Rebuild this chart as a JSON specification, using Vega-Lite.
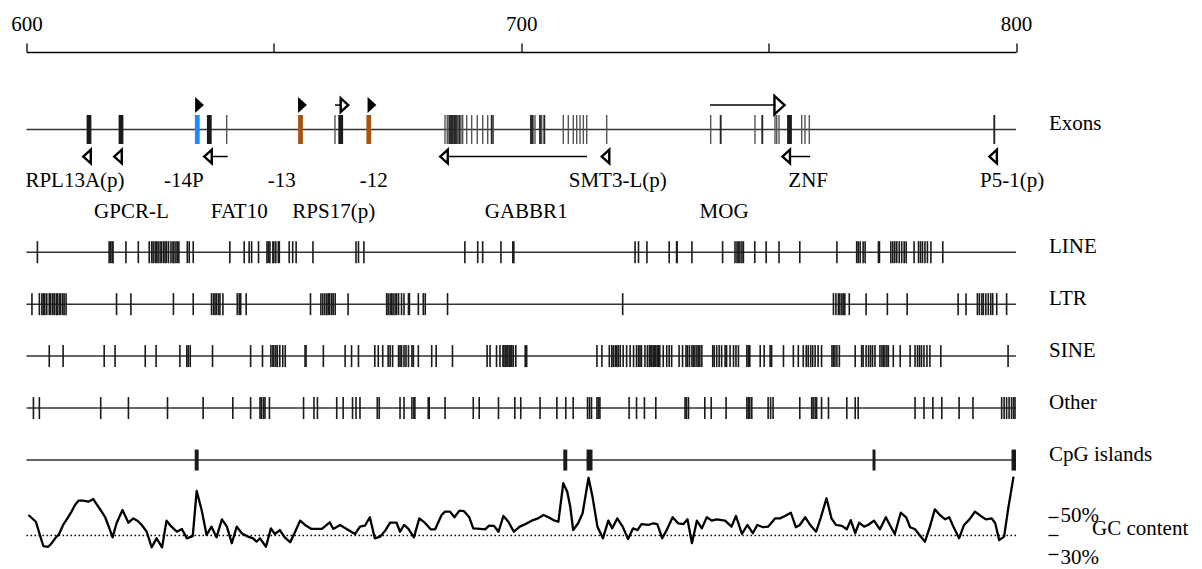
{
"$schema":"https://vega.github.io/schema/vega-lite/v6.json",
"width":989.5,"height":517,"autosize":{"type":"none"},
"padding":{"left":26.5,"top":52,"right":186,"bottom":0},
"background":"white",
"config":{"view":{"stroke":null},"font":"Liberation Serif"},
"datasets":{
"tracks":[{"track":"above","lane":1.17},{"track":"Exons","lane":1.64,"label":"Exons"},{"track":"below","lane":2.16},{"track":"names1","lane":2.625},{"track":"names2","lane":3.234},{"track":"LINE","lane":4,"label":"LINE"},{"track":"LTR","lane":5,"label":"LTR"},{"track":"SINE","lane":6,"label":"SINE"},{"track":"Other","lane":7,"label":"Other"},{"track":"CpG islands","lane":8,"label":"CpG islands"}],
"exons":[{"track":"Exons","pos":612.63,"group":"exon"},{"track":"Exons","pos":619.10,"group":"exon"},{"track":"Exons","pos":636.95,"group":"exon"},{"track":"Exons","pos":663.51,"group":"exon"},{"track":"Exons","pos":754.22,"group":"exon"},{"track":"Exons","pos":634.52,"group":"-14P"},{"track":"Exons","pos":655.38,"group":"-13"},{"track":"Exons","pos":669.19,"group":"-12"},
{"track":"Exons","pos":640.46,"group":"small"},{"track":"Exons","pos":662.35,"group":"small"},{"track":"Exons","pos":684.59,"group":"small"},{"track":"Exons","pos":685.05,"group":"small"},{"track":"Exons","pos":687.15,"group":"small"},{"track":"Exons","pos":687.82,"group":"small"},{"track":"Exons","pos":688.16,"group":"small"},{"track":"Exons","pos":688.97,"group":"small"},{"track":"Exons","pos":689.98,"group":"small"},{"track":"Exons","pos":691.11,"group":"small"},{"track":"Exons","pos":692.21,"group":"small"},{"track":"Exons","pos":693.22,"group":"small"},{"track":"Exons","pos":694.35,"group":"small"},{"track":"Exons","pos":702.78,"group":"small"},{"track":"Exons","pos":704.13,"group":"small"},{"track":"Exons","pos":708.50,"group":"small"},{"track":"Exons","pos":709.51,"group":"small"},{"track":"Exons","pos":710.52,"group":"small"},{"track":"Exons","pos":711.21,"group":"small"},{"track":"Exons","pos":711.88,"group":"small"},{"track":"Exons","pos":712.55,"group":"small"},{"track":"Exons","pos":713.23,"group":"small"},{"track":"Exons","pos":717.27,"group":"small"},{"track":"Exons","pos":738.29,"group":"small"},{"track":"Exons","pos":747.24,"group":"small"},{"track":"Exons","pos":751.29,"group":"small"},{"track":"Exons","pos":751.63,"group":"small"},{"track":"Exons","pos":752.10,"group":"small"},{"track":"Exons","pos":756.68,"group":"small"},{"track":"Exons","pos":757.35,"group":"small"},{"track":"Exons","pos":758.22,"group":"small"},
{"track":"Exons","pos":685.46,"group":"mid"},{"track":"Exons","pos":685.80,"group":"mid"},{"track":"Exons","pos":686.14,"group":"mid"},{"track":"Exons","pos":686.47,"group":"mid"},{"track":"Exons","pos":686.81,"group":"mid"},{"track":"Exons","pos":687.48,"group":"mid"},{"track":"Exons","pos":694.03,"group":"mid"},{"track":"Exons","pos":701.97,"group":"mid"},{"track":"Exons","pos":702.31,"group":"mid"},{"track":"Exons","pos":703.79,"group":"mid"},{"track":"Exons","pos":704.66,"group":"mid"},{"track":"Exons","pos":740.31,"group":"mid"},{"track":"Exons","pos":748.72,"group":"mid"},{"track":"Exons","pos":795.61,"group":"mid"}],
"markers":[{"gene":"-14P","pos":634.97,"track":"above","dir":"right","kind":"solid"},{"gene":"-13","pos":655.78,"track":"above","dir":"right","kind":"solid"},{"gene":"-12","pos":669.83,"track":"above","dir":"right","kind":"solid"},{"gene":"RPS17(p)","pos":664.27,"track":"above","dir":"right","kind":"open"},{"gene":"MOG","pos":752.2,"track":"above","dir":"right","kind":"open"},{"gene":"RPL13A(p)","pos":612.23,"track":"below","dir":"left","kind":"open"},{"gene":"GPCR-L","pos":618.49,"track":"below","dir":"left","kind":"open"},{"gene":"FAT10","pos":636.68,"track":"below","dir":"left","kind":"open"},{"gene":"GABBR1","pos":684.38,"track":"below","dir":"left","kind":"open"},{"gene":"SMT3-L(p)","pos":717.03,"track":"below","dir":"left","kind":"open"},{"gene":"ZNF","pos":753.55,"track":"below","dir":"left","kind":"open"},{"gene":"P5-1(p)","pos":795.37,"track":"below","dir":"left","kind":"open"}],
"stems":[{"gene":"RPS17(p)","pos":662.35,"end":663.56,"track":"above"},{"gene":"MOG","pos":738.15,"end":751.39,"track":"above"},{"gene":"FAT10","pos":637.43,"end":640.67,"track":"below"},{"gene":"GABBR1","pos":685.40,"end":713.29,"track":"below"},{"gene":"ZNF","pos":754.46,"end":758.38,"track":"below"}],
"names":[{"gene":"RPL13A(p)","pos":609.8,"track":"names1"},{"gene":"-14P","pos":631.8,"track":"names1"},{"gene":"-13","pos":651.6,"track":"names1"},{"gene":"-12","pos":670.2,"track":"names1"},{"gene":"SMT3-L(p)","pos":719.5,"track":"names1"},{"gene":"ZNF","pos":758.0,"track":"names1"},{"gene":"P5-1(p)","pos":799.2,"track":"names1"},{"gene":"GPCR-L","pos":621.2,"track":"names2"},{"gene":"FAT10","pos":643.0,"track":"names2"},{"gene":"RPS17(p)","pos":662.1,"track":"names2"},{"gene":"GABBR1","pos":701.0,"track":"names2"},{"gene":"MOG","pos":741.0,"track":"names2"}],
"cpg":[{"track":"CpG islands","pos":634.0,"end":634.8},{"track":"CpG islands","pos":708.5,"end":709.3},{"track":"CpG islands","pos":713.2,"end":714.4},{"track":"CpG islands","pos":771.0,"end":771.6},{"track":"CpG islands","pos":799.1,"end":800.0}],
"repeats":[
{"track":"LINE","pos":602.2},{"track":"LINE","pos":616.7},{"track":"LINE","pos":617.0},{"track":"LINE","pos":617.3},{"track":"LINE","pos":617.5},{"track":"LINE","pos":620.1},{"track":"LINE","pos":622.6},{"track":"LINE","pos":624.8},{"track":"LINE","pos":625.3},{"track":"LINE","pos":625.6},{"track":"LINE","pos":626.0},{"track":"LINE","pos":626.3},{"track":"LINE","pos":626.6},{"track":"LINE","pos":627.0},{"track":"LINE","pos":627.3},{"track":"LINE","pos":627.7},{"track":"LINE","pos":628.0},{"track":"LINE","pos":628.3},{"track":"LINE","pos":628.7},{"track":"LINE","pos":629.2},{"track":"LINE","pos":629.6},{"track":"LINE","pos":629.8},{"track":"LINE","pos":630.2},{"track":"LINE","pos":630.5},{"track":"LINE","pos":630.8},{"track":"LINE","pos":632.5},{"track":"LINE","pos":632.9},{"track":"LINE","pos":633.7},{"track":"LINE","pos":641.1},{"track":"LINE","pos":644.0},{"track":"LINE","pos":645.0},{"track":"LINE","pos":645.5},{"track":"LINE","pos":646.9},{"track":"LINE","pos":648.6},{"track":"LINE","pos":648.9},{"track":"LINE","pos":649.2},{"track":"LINE","pos":649.8},{"track":"LINE","pos":650.0},{"track":"LINE","pos":650.4},{"track":"LINE","pos":650.9},{"track":"LINE","pos":651.1},{"track":"LINE","pos":653.1},{"track":"LINE","pos":653.8},{"track":"LINE","pos":654.5},{"track":"LINE","pos":657.9},{"track":"LINE","pos":666.6},{"track":"LINE","pos":667.1},{"track":"LINE","pos":668.2},{"track":"LINE","pos":688.6},{"track":"LINE","pos":691.2},{"track":"LINE","pos":692.2},{"track":"LINE","pos":695.9},{"track":"LINE","pos":698.3},{"track":"LINE","pos":698.5},{"track":"LINE","pos":723.0},{"track":"LINE","pos":723.7},{"track":"LINE","pos":725.4},{"track":"LINE","pos":729.9},{"track":"LINE","pos":731.4},{"track":"LINE","pos":731.5},{"track":"LINE","pos":734.5},{"track":"LINE","pos":740.7},{"track":"LINE","pos":743.2},{"track":"LINE","pos":743.6},{"track":"LINE","pos":743.9},{"track":"LINE","pos":744.2},{"track":"LINE","pos":744.6},{"track":"LINE","pos":744.9},{"track":"LINE","pos":747.2},{"track":"LINE","pos":749.5},{"track":"LINE","pos":752.1},{"track":"LINE","pos":756.3},{"track":"LINE","pos":763.8},{"track":"LINE","pos":767.8},{"track":"LINE","pos":768.1},{"track":"LINE","pos":768.5},{"track":"LINE","pos":769.1},{"track":"LINE","pos":769.5},{"track":"LINE","pos":772.2},{"track":"LINE","pos":772.4},{"track":"LINE","pos":774.7},{"track":"LINE","pos":775.1},{"track":"LINE","pos":775.5},{"track":"LINE","pos":775.9},{"track":"LINE","pos":776.4},{"track":"LINE","pos":776.9},{"track":"LINE","pos":777.4},{"track":"LINE","pos":777.8},{"track":"LINE","pos":779.4},{"track":"LINE","pos":780.3},{"track":"LINE","pos":780.7},{"track":"LINE","pos":781.1},{"track":"LINE","pos":781.6},{"track":"LINE","pos":782.1},{"track":"LINE","pos":782.8},{"track":"LINE","pos":785.2},
{"track":"LTR","pos":601.1},{"track":"LTR","pos":602.6},{"track":"LTR","pos":603.1},{"track":"LTR","pos":603.4},{"track":"LTR","pos":603.7},{"track":"LTR","pos":604.1},{"track":"LTR","pos":604.6},{"track":"LTR","pos":604.9},{"track":"LTR","pos":605.3},{"track":"LTR","pos":605.6},{"track":"LTR","pos":606.0},{"track":"LTR","pos":606.2},{"track":"LTR","pos":606.6},{"track":"LTR","pos":606.9},{"track":"LTR","pos":607.3},{"track":"LTR","pos":607.6},{"track":"LTR","pos":608.0},{"track":"LTR","pos":618.2},{"track":"LTR","pos":621.1},{"track":"LTR","pos":629.7},{"track":"LTR","pos":633.7},{"track":"LTR","pos":637.4},{"track":"LTR","pos":637.8},{"track":"LTR","pos":638.1},{"track":"LTR","pos":638.4},{"track":"LTR","pos":638.8},{"track":"LTR","pos":639.1},{"track":"LTR","pos":639.7},{"track":"LTR","pos":642.6},{"track":"LTR","pos":643.0},{"track":"LTR","pos":643.3},{"track":"LTR","pos":644.4},{"track":"LTR","pos":657.4},{"track":"LTR","pos":659.5},{"track":"LTR","pos":659.9},{"track":"LTR","pos":660.3},{"track":"LTR","pos":660.7},{"track":"LTR","pos":661.0},{"track":"LTR","pos":661.3},{"track":"LTR","pos":661.7},{"track":"LTR","pos":662.0},{"track":"LTR","pos":662.4},{"track":"LTR","pos":665.0},{"track":"LTR","pos":672.8},{"track":"LTR","pos":673.1},{"track":"LTR","pos":673.5},{"track":"LTR","pos":673.8},{"track":"LTR","pos":674.1},{"track":"LTR","pos":674.5},{"track":"LTR","pos":674.8},{"track":"LTR","pos":675.2},{"track":"LTR","pos":675.8},{"track":"LTR","pos":676.3},{"track":"LTR","pos":677.2},{"track":"LTR","pos":677.4},{"track":"LTR","pos":679.2},{"track":"LTR","pos":680.2},{"track":"LTR","pos":680.6},{"track":"LTR","pos":685.1},{"track":"LTR","pos":720.5},{"track":"LTR","pos":763.1},{"track":"LTR","pos":763.6},{"track":"LTR","pos":764.1},{"track":"LTR","pos":764.4},{"track":"LTR","pos":764.8},{"track":"LTR","pos":765.1},{"track":"LTR","pos":765.4},{"track":"LTR","pos":766.3},{"track":"LTR","pos":769.7},{"track":"LTR","pos":774.0},{"track":"LTR","pos":778.0},{"track":"LTR","pos":788.3},{"track":"LTR","pos":789.9},{"track":"LTR","pos":792.2},{"track":"LTR","pos":792.6},{"track":"LTR","pos":793.1},{"track":"LTR","pos":793.4},{"track":"LTR","pos":793.9},{"track":"LTR","pos":794.4},{"track":"LTR","pos":794.9},{"track":"LTR","pos":795.3},{"track":"LTR","pos":796.1},{"track":"LTR","pos":798.1},
{"track":"SINE","pos":604.6},{"track":"SINE","pos":607.4},{"track":"SINE","pos":615.7},{"track":"SINE","pos":617.9},{"track":"SINE","pos":624.0},{"track":"SINE","pos":626.2},{"track":"SINE","pos":631.0},{"track":"SINE","pos":632.4},{"track":"SINE","pos":632.7},{"track":"SINE","pos":633.1},{"track":"SINE","pos":637.6},{"track":"SINE","pos":645.3},{"track":"SINE","pos":647.7},{"track":"SINE","pos":649.4},{"track":"SINE","pos":649.8},{"track":"SINE","pos":650.0},{"track":"SINE","pos":650.4},{"track":"SINE","pos":650.7},{"track":"SINE","pos":651.2},{"track":"SINE","pos":651.8},{"track":"SINE","pos":652.3},{"track":"SINE","pos":656.3},{"track":"SINE","pos":656.5},{"track":"SINE","pos":660.0},{"track":"SINE","pos":664.4},{"track":"SINE","pos":665.7},{"track":"SINE","pos":667.1},{"track":"SINE","pos":670.4},{"track":"SINE","pos":671.1},{"track":"SINE","pos":672.0},{"track":"SINE","pos":673.1},{"track":"SINE","pos":673.5},{"track":"SINE","pos":674.0},{"track":"SINE","pos":675.2},{"track":"SINE","pos":675.5},{"track":"SINE","pos":675.8},{"track":"SINE","pos":676.3},{"track":"SINE","pos":676.7},{"track":"SINE","pos":677.2},{"track":"SINE","pos":677.9},{"track":"SINE","pos":678.2},{"track":"SINE","pos":679.2},{"track":"SINE","pos":681.9},{"track":"SINE","pos":682.8},{"track":"SINE","pos":686.1},{"track":"SINE","pos":693.1},{"track":"SINE","pos":693.7},{"track":"SINE","pos":695.0},{"track":"SINE","pos":695.7},{"track":"SINE","pos":696.3},{"track":"SINE","pos":696.5},{"track":"SINE","pos":696.8},{"track":"SINE","pos":697.1},{"track":"SINE","pos":697.3},{"track":"SINE","pos":697.6},{"track":"SINE","pos":697.9},{"track":"SINE","pos":698.1},{"track":"SINE","pos":698.4},{"track":"SINE","pos":698.9},{"track":"SINE","pos":700.8},{"track":"SINE","pos":701.1},{"track":"SINE","pos":715.3},{"track":"SINE","pos":716.3},{"track":"SINE","pos":717.8},{"track":"SINE","pos":718.3},{"track":"SINE","pos":718.6},{"track":"SINE","pos":719.0},{"track":"SINE","pos":719.3},{"track":"SINE","pos":719.6},{"track":"SINE","pos":720.0},{"track":"SINE","pos":720.6},{"track":"SINE","pos":721.3},{"track":"SINE","pos":722.0},{"track":"SINE","pos":722.7},{"track":"SINE","pos":723.3},{"track":"SINE","pos":723.7},{"track":"SINE","pos":724.0},{"track":"SINE","pos":724.3},{"track":"SINE","pos":725.0},{"track":"SINE","pos":725.5},{"track":"SINE","pos":725.9},{"track":"SINE","pos":726.2},{"track":"SINE","pos":726.4},{"track":"SINE","pos":726.7},{"track":"SINE","pos":727.0},{"track":"SINE","pos":727.2},{"track":"SINE","pos":727.5},{"track":"SINE","pos":727.8},{"track":"SINE","pos":728.0},{"track":"SINE","pos":728.7},{"track":"SINE","pos":729.4},{"track":"SINE","pos":729.9},{"track":"SINE","pos":730.4},{"track":"SINE","pos":731.9},{"track":"SINE","pos":732.6},{"track":"SINE","pos":733.3},{"track":"SINE","pos":733.6},{"track":"SINE","pos":734.0},{"track":"SINE","pos":734.5},{"track":"SINE","pos":734.8},{"track":"SINE","pos":735.1},{"track":"SINE","pos":735.5},{"track":"SINE","pos":735.8},{"track":"SINE","pos":736.1},{"track":"SINE","pos":736.5},{"track":"SINE","pos":738.7},{"track":"SINE","pos":739.0},{"track":"SINE","pos":739.5},{"track":"SINE","pos":740.0},{"track":"SINE","pos":740.5},{"track":"SINE","pos":741.2},{"track":"SINE","pos":741.5},{"track":"SINE","pos":742.2},{"track":"SINE","pos":742.9},{"track":"SINE","pos":743.4},{"track":"SINE","pos":743.9},{"track":"SINE","pos":745.6},{"track":"SINE","pos":745.9},{"track":"SINE","pos":746.2},{"track":"SINE","pos":748.3},{"track":"SINE","pos":749.1},{"track":"SINE","pos":750.3},{"track":"SINE","pos":750.6},{"track":"SINE","pos":753.0},{"track":"SINE","pos":755.0},{"track":"SINE","pos":756.0},{"track":"SINE","pos":757.0},{"track":"SINE","pos":757.6},{"track":"SINE","pos":758.0},{"track":"SINE","pos":758.5},{"track":"SINE","pos":758.9},{"track":"SINE","pos":759.4},{"track":"SINE","pos":760.0},{"track":"SINE","pos":760.7},{"track":"SINE","pos":762.8},{"track":"SINE","pos":763.1},{"track":"SINE","pos":763.4},{"track":"SINE","pos":763.8},{"track":"SINE","pos":764.3},{"track":"SINE","pos":767.5},{"track":"SINE","pos":768.8},{"track":"SINE","pos":769.1},{"track":"SINE","pos":769.7},{"track":"SINE","pos":770.2},{"track":"SINE","pos":770.6},{"track":"SINE","pos":771.0},{"track":"SINE","pos":771.5},{"track":"SINE","pos":772.5},{"track":"SINE","pos":772.9},{"track":"SINE","pos":773.2},{"track":"SINE","pos":773.5},{"track":"SINE","pos":773.9},{"track":"SINE","pos":774.2},{"track":"SINE","pos":775.2},{"track":"SINE","pos":776.6},{"track":"SINE","pos":778.6},{"track":"SINE","pos":779.6},{"track":"SINE","pos":780.1},{"track":"SINE","pos":780.5},{"track":"SINE","pos":780.9},{"track":"SINE","pos":781.4},{"track":"SINE","pos":782.0},{"track":"SINE","pos":782.6},{"track":"SINE","pos":784.8},{"track":"SINE","pos":798.4},
{"track":"Other","pos":601.4},{"track":"Other","pos":602.6},{"track":"Other","pos":615.0},{"track":"Other","pos":620.6},{"track":"Other","pos":628.5},{"track":"Other","pos":635.7},{"track":"Other","pos":641.7},{"track":"Other","pos":645.3},{"track":"Other","pos":647.2},{"track":"Other","pos":647.5},{"track":"Other","pos":647.9},{"track":"Other","pos":648.2},{"track":"Other","pos":649.1},{"track":"Other","pos":656.0},{"track":"Other","pos":658.1},{"track":"Other","pos":658.8},{"track":"Other","pos":662.7},{"track":"Other","pos":664.0},{"track":"Other","pos":665.9},{"track":"Other","pos":666.6},{"track":"Other","pos":667.4},{"track":"Other","pos":670.9},{"track":"Other","pos":671.3},{"track":"Other","pos":675.5},{"track":"Other","pos":676.3},{"track":"Other","pos":677.9},{"track":"Other","pos":678.3},{"track":"Other","pos":678.5},{"track":"Other","pos":681.2},{"track":"Other","pos":681.4},{"track":"Other","pos":684.6},{"track":"Other","pos":690.3},{"track":"Other","pos":691.5},{"track":"Other","pos":695.4},{"track":"Other","pos":698.7},{"track":"Other","pos":699.9},{"track":"Other","pos":703.8},{"track":"Other","pos":707.2},{"track":"Other","pos":709.0},{"track":"Other","pos":710.5},{"track":"Other","pos":713.4},{"track":"Other","pos":713.8},{"track":"Other","pos":714.2},{"track":"Other","pos":715.3},{"track":"Other","pos":715.6},{"track":"Other","pos":715.9},{"track":"Other","pos":721.8},{"track":"Other","pos":723.3},{"track":"Other","pos":724.9},{"track":"Other","pos":727.2},{"track":"Other","pos":733.1},{"track":"Other","pos":733.4},{"track":"Other","pos":733.8},{"track":"Other","pos":737.1},{"track":"Other","pos":738.4},{"track":"Other","pos":741.4},{"track":"Other","pos":745.6},{"track":"Other","pos":745.9},{"track":"Other","pos":746.2},{"track":"Other","pos":746.6},{"track":"Other","pos":749.9},{"track":"Other","pos":750.4},{"track":"Other","pos":750.9},{"track":"Other","pos":756.3},{"track":"Other","pos":758.7},{"track":"Other","pos":759.0},{"track":"Other","pos":759.4},{"track":"Other","pos":759.7},{"track":"Other","pos":760.7},{"track":"Other","pos":762.1},{"track":"Other","pos":765.8},{"track":"Other","pos":767.5},{"track":"Other","pos":768.1},{"track":"Other","pos":779.6},{"track":"Other","pos":781.4},{"track":"Other","pos":783.2},{"track":"Other","pos":785.0},{"track":"Other","pos":788.5},{"track":"Other","pos":791.3},{"track":"Other","pos":797.1},{"track":"Other","pos":797.6},{"track":"Other","pos":798.1},{"track":"Other","pos":798.6},{"track":"Other","pos":799.1},{"track":"Other","pos":799.5},{"track":"Other","pos":799.8}],
"gc":[{"pos":600.4,"gc":50.9},{"pos":601.9,"gc":47.3},{"pos":602.7,"gc":40.3},{"pos":603.4,"gc":34.4},{"pos":604.4,"gc":34.0},{"pos":605.1,"gc":35.9},{"pos":605.8,"gc":38.5},{"pos":606.6,"gc":40.8},{"pos":607.4,"gc":45.6},{"pos":608.4,"gc":49.7},{"pos":609.1,"gc":52.7},{"pos":609.8,"gc":56.2},{"pos":610.5,"gc":58.5},{"pos":611.5,"gc":58.5},{"pos":612.5,"gc":58.0},{"pos":613.5,"gc":59.4},{"pos":614.3,"gc":56.2},{"pos":615.2,"gc":52.7},{"pos":615.9,"gc":49.7},{"pos":616.5,"gc":45.6},{"pos":617.4,"gc":39.0},{"pos":618.2,"gc":46.5},{"pos":619.4,"gc":53.6},{"pos":620.6,"gc":46.8},{"pos":621.6,"gc":49.1},{"pos":622.4,"gc":47.9},{"pos":623.3,"gc":45.6},{"pos":624.3,"gc":42.0},{"pos":625.3,"gc":33.7},{"pos":626.3,"gc":38.5},{"pos":627.4,"gc":33.7},{"pos":628.3,"gc":47.9},{"pos":629.3,"gc":44.7},{"pos":630.4,"gc":42.0},{"pos":631.4,"gc":43.5},{"pos":632.4,"gc":38.5},{"pos":633.6,"gc":39.7},{"pos":634.4,"gc":63.7},{"pos":635.4,"gc":53.6},{"pos":636.4,"gc":40.3},{"pos":637.4,"gc":44.7},{"pos":638.4,"gc":39.0},{"pos":639.5,"gc":48.6},{"pos":640.5,"gc":44.7},{"pos":641.5,"gc":35.9},{"pos":642.5,"gc":44.7},{"pos":643.5,"gc":41.2},{"pos":644.5,"gc":39.7},{"pos":645.8,"gc":38.5},{"pos":646.5,"gc":36.7},{"pos":647.2,"gc":38.5},{"pos":648.4,"gc":34.0},{"pos":649.4,"gc":43.8},{"pos":650.2,"gc":40.8},{"pos":651.2,"gc":42.9},{"pos":652.2,"gc":39.0},{"pos":653.3,"gc":36.4},{"pos":654.3,"gc":42.0},{"pos":655.3,"gc":47.9},{"pos":656.3,"gc":45.6},{"pos":657.6,"gc":43.5},{"pos":659.7,"gc":43.5},{"pos":661.3,"gc":47.0},{"pos":662.0,"gc":43.5},{"pos":663.4,"gc":45.6},{"pos":664.7,"gc":43.5},{"pos":666.4,"gc":40.8},{"pos":667.4,"gc":44.7},{"pos":668.4,"gc":45.2},{"pos":669.4,"gc":49.7},{"pos":670.4,"gc":38.5},{"pos":671.5,"gc":39.4},{"pos":672.5,"gc":42.6},{"pos":673.5,"gc":46.8},{"pos":674.8,"gc":46.8},{"pos":675.5,"gc":42.0},{"pos":676.3,"gc":45.6},{"pos":677.2,"gc":43.5},{"pos":678.3,"gc":39.0},{"pos":679.4,"gc":49.1},{"pos":680.5,"gc":46.8},{"pos":681.7,"gc":43.3},{"pos":682.6,"gc":43.3},{"pos":683.9,"gc":50.9},{"pos":684.6,"gc":52.7},{"pos":685.6,"gc":52.7},{"pos":686.5,"gc":49.7},{"pos":687.5,"gc":53.2},{"pos":688.4,"gc":53.0},{"pos":689.5,"gc":49.7},{"pos":690.3,"gc":43.8},{"pos":691.7,"gc":43.5},{"pos":692.7,"gc":43.3},{"pos":693.5,"gc":45.2},{"pos":694.5,"gc":45.1},{"pos":695.4,"gc":42.0},{"pos":696.4,"gc":50.4},{"pos":697.4,"gc":47.3},{"pos":698.5,"gc":42.0},{"pos":699.7,"gc":44.7},{"pos":700.8,"gc":46.0},{"pos":702.1,"gc":47.9},{"pos":703.4,"gc":49.1},{"pos":704.5,"gc":50.9},{"pos":705.5,"gc":49.7},{"pos":706.5,"gc":48.2},{"pos":707.5,"gc":47.3},{"pos":708.5,"gc":67.8},{"pos":709.3,"gc":63.3},{"pos":709.9,"gc":55.3},{"pos":710.5,"gc":42.9},{"pos":711.5,"gc":46.5},{"pos":712.4,"gc":51.8},{"pos":713.6,"gc":70.7},{"pos":714.4,"gc":60.6},{"pos":715.4,"gc":44.7},{"pos":716.5,"gc":38.5},{"pos":717.6,"gc":47.9},{"pos":718.4,"gc":43.8},{"pos":719.4,"gc":49.1},{"pos":720.5,"gc":44.7},{"pos":721.6,"gc":38.1},{"pos":722.6,"gc":43.8},{"pos":723.5,"gc":42.9},{"pos":724.3,"gc":46.0},{"pos":725.7,"gc":45.6},{"pos":726.7,"gc":46.5},{"pos":727.5,"gc":46.1},{"pos":728.5,"gc":38.5},{"pos":729.4,"gc":42.9},{"pos":730.6,"gc":49.7},{"pos":731.7,"gc":46.5},{"pos":732.8,"gc":46.1},{"pos":733.6,"gc":48.6},{"pos":734.5,"gc":35.9},{"pos":735.5,"gc":47.9},{"pos":736.5,"gc":43.8},{"pos":737.5,"gc":49.7},{"pos":738.5,"gc":47.9},{"pos":739.5,"gc":48.6},{"pos":741.2,"gc":47.9},{"pos":742.5,"gc":44.7},{"pos":743.4,"gc":50.4},{"pos":744.6,"gc":40.8},{"pos":745.7,"gc":45.6},{"pos":746.8,"gc":41.2},{"pos":747.7,"gc":45.6},{"pos":748.9,"gc":44.4},{"pos":749.9,"gc":44.7},{"pos":751.3,"gc":49.1},{"pos":752.3,"gc":49.1},{"pos":753.3,"gc":50.4},{"pos":754.5,"gc":52.1},{"pos":755.5,"gc":44.4},{"pos":756.3,"gc":45.6},{"pos":757.4,"gc":49.7},{"pos":758.4,"gc":45.6},{"pos":759.6,"gc":42.0},{"pos":760.5,"gc":49.1},{"pos":761.7,"gc":59.8},{"pos":762.7,"gc":49.1},{"pos":763.6,"gc":45.6},{"pos":764.8,"gc":45.1},{"pos":765.8,"gc":43.3},{"pos":766.6,"gc":48.2},{"pos":767.5,"gc":41.2},{"pos":768.3,"gc":46.8},{"pos":769.3,"gc":44.7},{"pos":770.1,"gc":45.6},{"pos":771.3,"gc":47.9},{"pos":772.5,"gc":43.3},{"pos":773.7,"gc":49.7},{"pos":774.5,"gc":45.6},{"pos":775.5,"gc":40.8},{"pos":776.7,"gc":52.1},{"pos":777.8,"gc":49.7},{"pos":778.6,"gc":44.4},{"pos":779.6,"gc":43.3},{"pos":780.5,"gc":40.3},{"pos":781.6,"gc":36.7},{"pos":782.6,"gc":44.7},{"pos":783.6,"gc":53.9},{"pos":784.6,"gc":50.9},{"pos":785.7,"gc":48.6},{"pos":786.5,"gc":49.7},{"pos":787.5,"gc":43.8},{"pos":788.5,"gc":38.5},{"pos":789.5,"gc":45.6},{"pos":790.6,"gc":48.6},{"pos":791.7,"gc":52.7},{"pos":792.9,"gc":50.4},{"pos":793.9,"gc":48.6},{"pos":795.1,"gc":49.1},{"pos":795.8,"gc":46.5},{"pos":796.6,"gc":37.6},{"pos":797.6,"gc":39.4},{"pos":798.4,"gc":53.9},{"pos":799.5,"gc":71.3}]
},
"layer":[
{"encoding":{"y":{"field":"lane","type":"quantitative","scale":{"domain":[0.2453,10],"reverse":true,"nice":false,"zero":false},"axis":null}},
"layer":[
{"data":{"name":"tracks"},"transform":[{"filter":"isValid(datum.label)"}],"mark":{"type":"rule","color":"#333333","strokeWidth":1.5},"encoding":{"x":{"datum":600,"type":"quantitative","scale":{"domain":[600,800],"nice":false,"zero":false},"axis":{"orient":"top","values":[600,650,700,750,800],"tickSize":9,"tickWidth":1.3,"tickColor":"black","domainColor":"black","domainWidth":1.3,"labelExpr":"datum.value % 100 == 0 ? datum.label : ''","labelFont":"Liberation Serif","labelFontSize":21,"labelColor":"black","labelPadding":9,"labelFlush":false,"labelOverlap":false,"labelBound":false,"title":null,"grid":false}},"x2":{"datum":800}}},
{"data":{"name":"exons"},"transform":[{"filter":"datum.group == 'small'"},{"lookup":"track","from":{"data":{"name":"tracks"},"key":"track","fields":["lane"]}}],"mark":{"type":"tick","orient":"vertical","size":29,"thickness":1.4,"opacity":1},"encoding":{"x":{"field":"pos","type":"quantitative","scale":{"domain":[600,800],"nice":false,"zero":false},"axis":{"orient":"top","values":[600,650,700,750,800],"tickSize":9,"tickWidth":1.3,"tickColor":"black","domainColor":"black","domainWidth":1.3,"labelExpr":"datum.value % 100 == 0 ? datum.label : ''","labelFont":"Liberation Serif","labelFontSize":21,"labelColor":"black","labelPadding":9,"labelFlush":false,"labelOverlap":false,"labelBound":false,"title":null,"grid":false}},"color":{"field":"group","type":"nominal","scale":{"domain":["exon","mid","small","-14P","-13","-12"],"range":["#1a1a1a","#262626","#555555","#1a8cff","#a65410","#a65410"]},"legend":null}}},
{"data":{"name":"exons"},"transform":[{"filter":"datum.group == 'mid'"},{"lookup":"track","from":{"data":{"name":"tracks"},"key":"track","fields":["lane"]}}],"mark":{"type":"tick","orient":"vertical","size":29,"thickness":1.9,"opacity":1},"encoding":{"x":{"field":"pos","type":"quantitative","scale":{"domain":[600,800],"nice":false,"zero":false},"axis":{"orient":"top","values":[600,650,700,750,800],"tickSize":9,"tickWidth":1.3,"tickColor":"black","domainColor":"black","domainWidth":1.3,"labelExpr":"datum.value % 100 == 0 ? datum.label : ''","labelFont":"Liberation Serif","labelFontSize":21,"labelColor":"black","labelPadding":9,"labelFlush":false,"labelOverlap":false,"labelBound":false,"title":null,"grid":false}},"color":{"field":"group","type":"nominal","scale":{"domain":["exon","mid","small","-14P","-13","-12"],"range":["#1a1a1a","#262626","#555555","#1a8cff","#a65410","#a65410"]},"legend":null}}},
{"data":{"name":"exons"},"transform":[{"filter":"datum.group != 'mid' && datum.group != 'small'"},{"lookup":"track","from":{"data":{"name":"tracks"},"key":"track","fields":["lane"]}}],"mark":{"type":"tick","orient":"vertical","size":29,"thickness":4.8,"opacity":1},"encoding":{"x":{"field":"pos","type":"quantitative","scale":{"domain":[600,800],"nice":false,"zero":false},"axis":{"orient":"top","values":[600,650,700,750,800],"tickSize":9,"tickWidth":1.3,"tickColor":"black","domainColor":"black","domainWidth":1.3,"labelExpr":"datum.value % 100 == 0 ? datum.label : ''","labelFont":"Liberation Serif","labelFontSize":21,"labelColor":"black","labelPadding":9,"labelFlush":false,"labelOverlap":false,"labelBound":false,"title":null,"grid":false}},"color":{"field":"group","type":"nominal","scale":{"domain":["exon","mid","small","-14P","-13","-12"],"range":["#1a1a1a","#262626","#555555","#1a8cff","#a65410","#a65410"]},"legend":null}}},
{"data":{"name":"stems"},"transform":[{"lookup":"track","from":{"data":{"name":"tracks"},"key":"track","fields":["lane"]}}],"mark":{"type":"rule","color":"black","strokeWidth":1.5},"encoding":{"x":{"field":"pos","type":"quantitative","scale":{"domain":[600,800],"nice":false,"zero":false},"axis":{"orient":"top","values":[600,650,700,750,800],"tickSize":9,"tickWidth":1.3,"tickColor":"black","domainColor":"black","domainWidth":1.3,"labelExpr":"datum.value % 100 == 0 ? datum.label : ''","labelFont":"Liberation Serif","labelFontSize":21,"labelColor":"black","labelPadding":9,"labelFlush":false,"labelOverlap":false,"labelBound":false,"title":null,"grid":false}},"x2":{"field":"end"}}},
{"data":{"name":"markers"},"transform":[{"filter":"datum.kind == 'solid'"},{"lookup":"track","from":{"data":{"name":"tracks"},"key":"track","fields":["lane"]}}],"mark":{"type":"point","filled":true,"color":"black","opacity":1,"strokeWidth":0},"encoding":{"x":{"field":"pos","type":"quantitative","scale":{"domain":[600,800],"nice":false,"zero":false},"axis":{"orient":"top","values":[600,650,700,750,800],"tickSize":9,"tickWidth":1.3,"tickColor":"black","domainColor":"black","domainWidth":1.3,"labelExpr":"datum.value % 100 == 0 ? datum.label : ''","labelFont":"Liberation Serif","labelFontSize":21,"labelColor":"black","labelPadding":9,"labelFlush":false,"labelOverlap":false,"labelBound":false,"title":null,"grid":false}},"shape":{"field":"dir","type":"nominal","scale":{"domain":["left","right"],"range":["M-0.55,0L0.55,-1L0.55,1Z","M0.55,0L-0.55,-1L-0.55,1Z"]},"legend":null},"size":{"value":256}}},
{"data":{"name":"markers"},"transform":[{"filter":"datum.kind == 'open'"},{"lookup":"track","from":{"data":{"name":"tracks"},"key":"track","fields":["lane"]}}],"mark":{"type":"point","filled":false,"color":"black","opacity":1,"strokeWidth":2.4,"fill":"white","fillOpacity":0},"encoding":{"x":{"field":"pos","type":"quantitative","scale":{"domain":[600,800],"nice":false,"zero":false},"axis":{"orient":"top","values":[600,650,700,750,800],"tickSize":9,"tickWidth":1.3,"tickColor":"black","domainColor":"black","domainWidth":1.3,"labelExpr":"datum.value % 100 == 0 ? datum.label : ''","labelFont":"Liberation Serif","labelFontSize":21,"labelColor":"black","labelPadding":9,"labelFlush":false,"labelOverlap":false,"labelBound":false,"title":null,"grid":false}},"shape":{"field":"dir","type":"nominal","scale":{"domain":["left","right"],"range":["M-0.55,0L0.55,-1L0.55,1Z","M0.55,0L-0.55,-1L-0.55,1Z"]},"legend":null},"size":{"condition":{"test":"datum.gene === 'MOG'","value":340},"value":190}}},
{"data":{"name":"names"},"transform":[{"lookup":"track","from":{"data":{"name":"tracks"},"key":"track","fields":["lane"]}}],"mark":{"type":"text","font":"Liberation Serif","fontSize":21,"color":"black","align":"center","baseline":"middle"},"encoding":{"x":{"field":"pos","type":"quantitative","scale":{"domain":[600,800],"nice":false,"zero":false},"axis":{"orient":"top","values":[600,650,700,750,800],"tickSize":9,"tickWidth":1.3,"tickColor":"black","domainColor":"black","domainWidth":1.3,"labelExpr":"datum.value % 100 == 0 ? datum.label : ''","labelFont":"Liberation Serif","labelFontSize":21,"labelColor":"black","labelPadding":9,"labelFlush":false,"labelOverlap":false,"labelBound":false,"title":null,"grid":false}},"text":{"field":"gene"}}},
{"data":{"name":"repeats"},"transform":[{"lookup":"track","from":{"data":{"name":"tracks"},"key":"track","fields":["lane"]}}],"mark":{"type":"tick","orient":"vertical","size":22,"thickness":1.6,"opacity":1,"color":"#1a1a1a"},"encoding":{"x":{"field":"pos","type":"quantitative","scale":{"domain":[600,800],"nice":false,"zero":false},"axis":{"orient":"top","values":[600,650,700,750,800],"tickSize":9,"tickWidth":1.3,"tickColor":"black","domainColor":"black","domainWidth":1.3,"labelExpr":"datum.value % 100 == 0 ? datum.label : ''","labelFont":"Liberation Serif","labelFontSize":21,"labelColor":"black","labelPadding":9,"labelFlush":false,"labelOverlap":false,"labelBound":false,"title":null,"grid":false}}}},
{"data":{"name":"cpg"},"transform":[{"lookup":"track","from":{"data":{"name":"tracks"},"key":"track","fields":["lane"]}}],"mark":{"type":"bar","height":21,"color":"#1a1a1a"},"encoding":{"x":{"field":"pos","type":"quantitative","scale":{"domain":[600,800],"nice":false,"zero":false},"axis":{"orient":"top","values":[600,650,700,750,800],"tickSize":9,"tickWidth":1.3,"tickColor":"black","domainColor":"black","domainWidth":1.3,"labelExpr":"datum.value % 100 == 0 ? datum.label : ''","labelFont":"Liberation Serif","labelFontSize":21,"labelColor":"black","labelPadding":9,"labelFlush":false,"labelOverlap":false,"labelBound":false,"title":null,"grid":false}},"x2":{"field":"end"}}},
{"data":{"name":"tracks"},"transform":[{"filter":"isValid(datum.label)"}],"mark":{"type":"text","font":"Liberation Serif","fontSize":21,"color":"black","align":"left","baseline":"middle","dx":33,"dy":-5},"encoding":{"x":{"datum":800,"type":"quantitative","scale":{"domain":[600,800],"nice":false,"zero":false},"axis":{"orient":"top","values":[600,650,700,750,800],"tickSize":9,"tickWidth":1.3,"tickColor":"black","domainColor":"black","domainWidth":1.3,"labelExpr":"datum.value % 100 == 0 ? datum.label : ''","labelFont":"Liberation Serif","labelFontSize":21,"labelColor":"black","labelPadding":9,"labelFlush":false,"labelOverlap":false,"labelBound":false,"title":null,"grid":false}},"text":{"field":"label"}}}
]},
{"layer":[
{"data":{"values":[{}]},"mark":{"type":"rule","color":"black","strokeWidth":1.6,"strokeDash":[1.6,2.4]},"encoding":{"x":{"datum":600,"type":"quantitative","scale":{"domain":[600,800],"nice":false,"zero":false},"axis":{"orient":"top","values":[600,650,700,750,800],"tickSize":9,"tickWidth":1.3,"tickColor":"black","domainColor":"black","domainWidth":1.3,"labelExpr":"datum.value % 100 == 0 ? datum.label : ''","labelFont":"Liberation Serif","labelFontSize":21,"labelColor":"black","labelPadding":9,"labelFlush":false,"labelOverlap":false,"labelBound":false,"title":null,"grid":false}},"x2":{"datum":800},"y":{"datum":40,"type":"quantitative","scale":{"domain":[22.18,297.18],"nice":false,"zero":false},"axis":{"orient":"right","offset":32,"domain":false,"grid":false,"values":[30,40,50],"tickSize":10,"tickWidth":1.3,"tickColor":"black","labelExpr":"datum.value == 40 ? '' : datum.value + '%'","labelFont":"Liberation Serif","labelFontSize":21,"labelColor":"black","labelPadding":2,"labelOffset":{"condition":{"test":"datum.value == 30","value":3},"value":-1},"labelBound":false,"labelOverlap":false,"title":null}}}},
{"data":{"name":"gc"},"mark":{"type":"line","color":"black","strokeWidth":2.3,"strokeJoin":"round"},"encoding":{"x":{"field":"pos","type":"quantitative","scale":{"domain":[600,800],"nice":false,"zero":false},"axis":{"orient":"top","values":[600,650,700,750,800],"tickSize":9,"tickWidth":1.3,"tickColor":"black","domainColor":"black","domainWidth":1.3,"labelExpr":"datum.value % 100 == 0 ? datum.label : ''","labelFont":"Liberation Serif","labelFontSize":21,"labelColor":"black","labelPadding":9,"labelFlush":false,"labelOverlap":false,"labelBound":false,"title":null,"grid":false}},"y":{"field":"gc","type":"quantitative","scale":{"domain":[22.18,297.18],"nice":false,"zero":false},"axis":{"orient":"right","offset":32,"domain":false,"grid":false,"values":[30,40,50],"tickSize":10,"tickWidth":1.3,"tickColor":"black","labelExpr":"datum.value == 40 ? '' : datum.value + '%'","labelFont":"Liberation Serif","labelFontSize":21,"labelColor":"black","labelPadding":2,"labelOffset":{"condition":{"test":"datum.value == 30","value":3},"value":-1},"labelBound":false,"labelOverlap":false,"title":null}}}},
{"data":{"values":[{}]},"mark":{"type":"text","text":"GC content","font":"Liberation Serif","fontSize":21,"color":"black","align":"left","baseline":"middle","dx":76},"encoding":{"x":{"datum":800,"type":"quantitative","scale":{"domain":[600,800],"nice":false,"zero":false},"axis":{"orient":"top","values":[600,650,700,750,800],"tickSize":9,"tickWidth":1.3,"tickColor":"black","domainColor":"black","domainWidth":1.3,"labelExpr":"datum.value % 100 == 0 ? datum.label : ''","labelFont":"Liberation Serif","labelFontSize":21,"labelColor":"black","labelPadding":9,"labelFlush":false,"labelOverlap":false,"labelBound":false,"title":null,"grid":false}},"y":{"datum":43.5,"type":"quantitative","scale":{"domain":[22.18,297.18],"nice":false,"zero":false},"axis":{"orient":"right","offset":32,"domain":false,"grid":false,"values":[30,40,50],"tickSize":10,"tickWidth":1.3,"tickColor":"black","labelExpr":"datum.value == 40 ? '' : datum.value + '%'","labelFont":"Liberation Serif","labelFontSize":21,"labelColor":"black","labelPadding":2,"labelOffset":{"condition":{"test":"datum.value == 30","value":3},"value":-1},"labelBound":false,"labelOverlap":false,"title":null}}}}
]}
],
"resolve":{"scale":{"y":"independent"}}
}
